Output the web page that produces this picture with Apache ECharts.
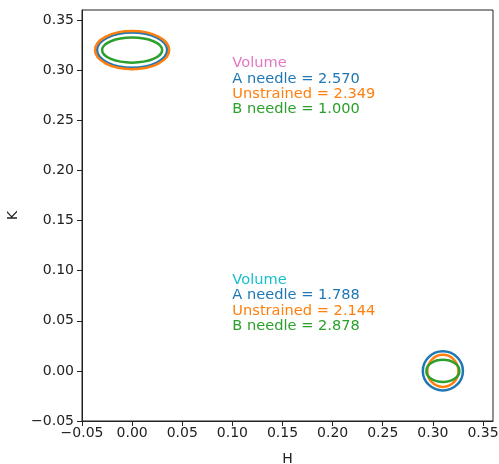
<!DOCTYPE html>
<html>
<head>
<meta charset="utf-8">
<script src="https://cdn.jsdelivr.net/npm/echarts@6/dist/echarts.min.js"></script>
<style>
  html, body { margin: 0; padding: 0; background: #fff; }
  #chart { width: 499px; height: 464px; }
</style>
</head>
<body>
<div id="chart"></div>
<script>
// ellipse data: [centre H, centre K, half width, half height]
const blueEllipses = [[0, 0.32, 0.035, 0.0175], [0.31, 0, 0.020, 0.0195]];
const orangeEllipses = [[0, 0.32, 0.037, 0.019], [0.31, 0, 0.0155, 0.016]];
const greenEllipses = [[0, 0.32, 0.030, 0.0125], [0.31, 0, 0.0165, 0.011]];

// annotation anchors (H, K of the top line) and text
const notePos = [[0.1, 0.314], [0.1, 0.098]];
const noteTitle = ['Volume', 'Volume'];
const volA = ['2.570', '1.788'];
const volU = ['2.349', '2.144'];
const volB = ['1.000', '2.878'];

const C = { blue: '#1f77b4', orange: '#ff7f0e', green: '#2ca02c', pink: '#e377c2', cyan: '#17becf' };
const font = 'DejaVu Sans';

let myChart = echarts.init(document.getElementById('chart'), null, { renderer: 'canvas' });

function ellipseSeries(data, color) {
  return {
    type: 'custom',
    data: data,
    silent: true,
    renderItem: function (params, api) {
      let c = api.coord([api.value(0), api.value(1)]);
      let s = api.size([api.value(2), api.value(3)]);
      return {
        type: 'ellipse',
        shape: { cx: c[0], cy: c[1], rx: s[0], ry: s[1] },
        style: { fill: null, stroke: color, lineWidth: 2.5 }
      };
    }
  };
}

const tickFmt = function (v) {
  let r = Math.round(v * 100) / 100;
  if (Math.abs(r * 20 - Math.round(r * 20)) > 1e-6) return '';
  return r.toFixed(2).replace('-', '\u2212');
};

const noteData = notePos.map((p, i) => [p[0], p[1], i]);

myChart.setOption({
  animation: false,
  grid: {
    left: 82, right: 6, top: 10, bottom: 43,
    outerBoundsMode: 'none', containLabel: false,
    show: true, borderColor: '#222', borderWidth: 1
  },
  xAxis: {
    type: 'value', min: -0.05, max: 0.36, interval: 0.05,
    name: 'H', nameLocation: 'middle', nameGap: 31,
    nameTextStyle: { color: '#222', fontSize: 14, fontFamily: font },
    axisLine: { show: true, onZero: false, lineStyle: { color: '#222', width: 1 } },
    axisTick: { show: true, length: 5, lineStyle: { color: '#222' } },
    axisLabel: { color: '#222', fontSize: 14, fontFamily: font, margin: 5, formatter: tickFmt, showMaxLabel: false },
    splitLine: { show: false }
  },
  yAxis: {
    type: 'value', min: -0.05, max: 0.36, interval: 0.05,
    name: 'K', nameLocation: 'middle', nameGap: 62,
    nameTextStyle: { color: '#222', fontSize: 14, fontFamily: font },
    axisLine: { show: true, onZero: false, lineStyle: { color: '#222', width: 1 } },
    axisTick: { show: true, length: 5, lineStyle: { color: '#222' } },
    axisLabel: { color: '#222', fontSize: 14, fontFamily: font, margin: 8, formatter: tickFmt, showMaxLabel: false },
    splitLine: { show: false }
  },
  series: [
    ellipseSeries(blueEllipses, C.blue),
    ellipseSeries(orangeEllipses, C.orange),
    ellipseSeries(greenEllipses, C.green),
    {
      type: 'custom',
      data: noteData,
      silent: true,
      renderItem: function (params, api) {
        let i = api.value(2);
        let c = api.coord([api.value(0), api.value(1)]);
        let lines = [
          [noteTitle[i], i === 0 ? C.pink : C.cyan],
          ['A needle = ' + volA[i], C.blue],
          ['Unstrained = ' + volU[i], C.orange],
          ['B needle = ' + volB[i], C.green]
        ];
        return {
          type: 'group',
          children: lines.map((l, k) => ({
            type: 'text',
            x: c[0], y: c[1] + k * 15.3,
            style: {
              text: l[0], fill: l[1],
              font: '14.6px "' + font + '"',
              textAlign: 'left', textVerticalAlign: 'top', verticalAlign: 'top'
            }
          }))
        };
      }
    }
  ]
});

window.addEventListener('resize', () => {
  if (myChart) myChart.resize();
});
</script>
</body>
</html>
